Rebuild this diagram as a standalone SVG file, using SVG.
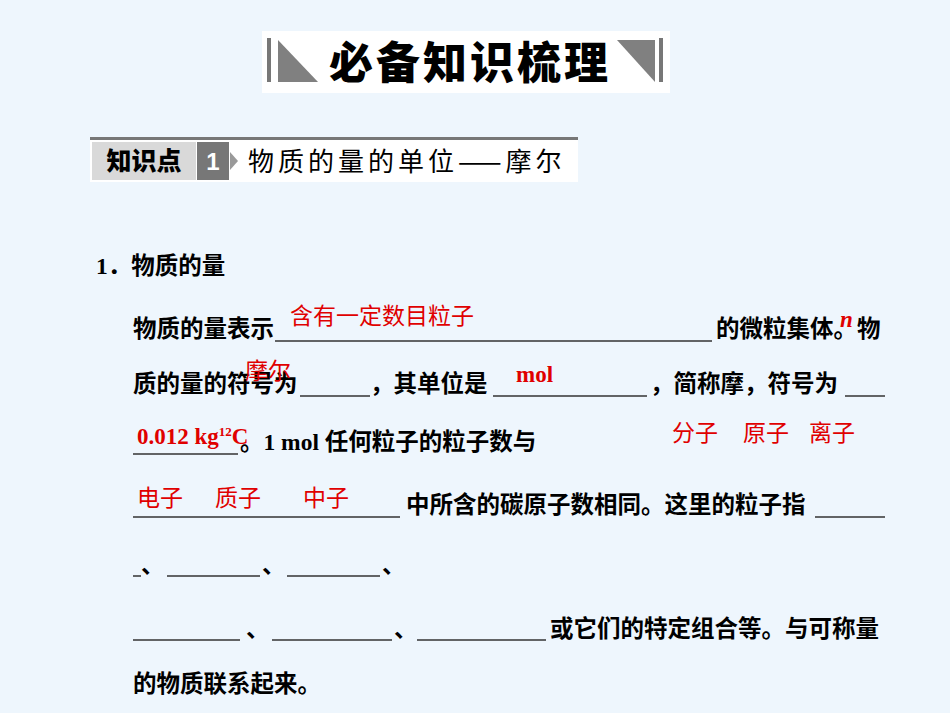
<svg xmlns="http://www.w3.org/2000/svg" width="950" height="713" viewBox="0 0 950 713">
<style>
.b{font-family:"Liberation Serif","Noto Sans CJK SC",serif;font-weight:bold;font-size:23.5px;fill:#000}
.r{font-family:"Liberation Serif","Noto Sans CJK SC",serif;font-size:23px;fill:#e00000}
.u{stroke:#333;stroke-width:1.5}
</style>
<rect width="950" height="713" fill="#eef6fd"/>
<g id="title">
<rect x="262" y="31" width="408" height="62" fill="#fff"/>
<rect x="267" y="38" width="4" height="44" fill="#777"/>
<polygon points="278,40 278,82 318,82" fill="#808080"/>
<text x="470" y="79" text-anchor="middle" font-family="Noto Sans CJK SC,sans-serif" font-weight="900" font-size="44" letter-spacing="3">必备知识梳理</text>
<polygon points="617,40 655,40 655,82" fill="#808080"/>
<rect x="659" y="38" width="4" height="44" fill="#777"/>
</g>
<g id="section">
<rect x="90" y="137" width="488" height="45" fill="#fff"/>
<rect x="90" y="137" width="488" height="3" fill="#777"/>
<rect x="92" y="142" width="104" height="38" fill="#d9d9d9"/>
<text x="144" y="170" text-anchor="middle" font-family="Noto Sans CJK SC,sans-serif" font-weight="900" font-size="25">知识点</text>
<rect x="197" y="142" width="32" height="38" fill="#777"/>
<text x="213" y="170" text-anchor="middle" font-family="Liberation Sans,sans-serif" font-weight="bold" font-size="24" fill="#fff">1</text>
<polygon points="230,152 238,161 230,170" fill="#999"/>
<text x="248" y="171" font-family="Noto Sans CJK SC,sans-serif" font-size="26" letter-spacing="4">物质的量的单位——摩尔</text>
</g>
<g id="body">
<text class="b" x="96" y="274">1．物质的量</text>
<text class="b" x="133" y="337">物质的量表示</text>
<line class="u" x1="275" y1="341" x2="712" y2="341"/>
<text class="b" x="716" y="337">的微粒集体。物</text>
<text class="r" x="290" y="324">含有一定数目粒子</text>
<text class="r" x="840" y="327" font-style="italic" font-weight="bold">n</text>
<text class="b" x="133" y="392">质的量的符号为</text>
<line class="u" x1="300" y1="396" x2="370" y2="396"/>
<text class="b" x="370" y="392">，其单位是</text>
<line class="u" x1="493" y1="396" x2="647" y2="396"/>
<text class="b" x="650" y="392">，简称摩，符号为</text>
<line class="u" x1="845" y1="396" x2="885" y2="396"/>
<text class="r" x="245" y="379">摩尔</text>
<text class="r" x="516" y="382" font-weight="bold">mol</text>
<line class="u" x1="133" y1="454" x2="238" y2="454"/>
<text class="r" x="137" y="444" font-weight="bold">0.012 kg<tspan font-size="13" dy="-8">12</tspan><tspan dy="8">C</tspan></text>
<text class="b" x="240" y="450">。1 mol 任何粒子的粒子数与</text>
<text class="r" x="672" y="441">分子</text>
<text class="r" x="743" y="441">原子</text>
<text class="r" x="809" y="441">离子</text>
<text class="r" x="137" y="506">电子</text>
<text class="r" x="215" y="506">质子</text>
<text class="r" x="303" y="506">中子</text>
<line class="u" x1="133" y1="517" x2="400" y2="517"/>
<text class="b" x="406" y="513">中所含的碳原子数相同。这里的粒子指</text>
<line class="u" x1="815" y1="517" x2="885" y2="517"/>
<line class="u" x1="133" y1="576" x2="141" y2="576"/>
<text class="b" x="141" y="573">、</text>
<line class="u" x1="167" y1="576" x2="260" y2="576"/>
<text class="b" x="262" y="573">、</text>
<line class="u" x1="287" y1="576" x2="380" y2="576"/>
<text class="b" x="382" y="573">、</text>
<line class="u" x1="133" y1="640" x2="240" y2="640"/>
<text class="b" x="246" y="637">、</text>
<line class="u" x1="272" y1="640" x2="392" y2="640"/>
<text class="b" x="394" y="637">、</text>
<line class="u" x1="417" y1="640" x2="546" y2="640"/>
<text class="b" x="550" y="637">或它们的特定组合等。与可称量</text>
<text class="b" x="133" y="692">的物质联系起来。</text>
</g>
</svg>
